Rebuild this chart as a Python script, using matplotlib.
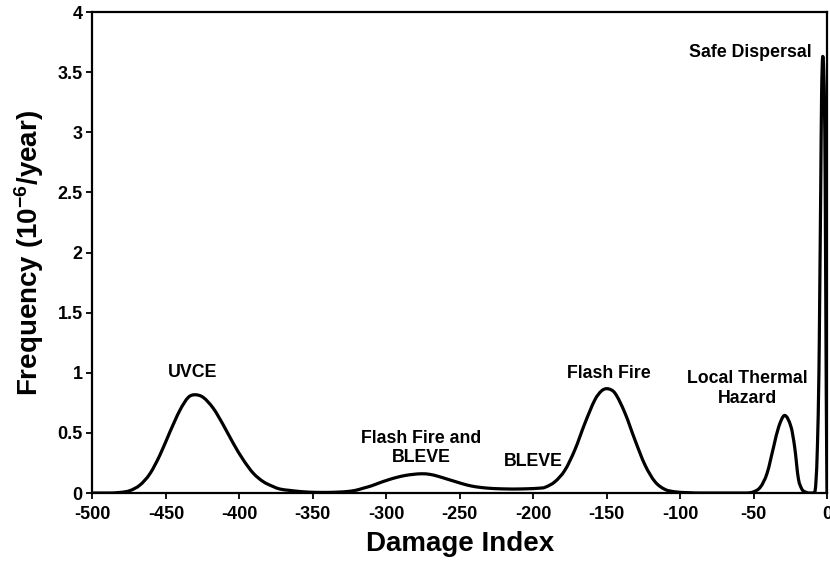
import matplotlib
matplotlib.use("Agg")
import numpy as np
import matplotlib.pyplot as plt
from matplotlib.path import Path
from matplotlib.patches import PathPatch
from matplotlib.ticker import FormatStrFormatter, MultipleLocator

plt.rcParams["font.family"] = ["Liberation Sans", "DejaVu Sans"]
plt.rcParams["font.weight"] = "bold"
plt.rcParams["axes.unicode_minus"] = False
plt.rcParams["mathtext.fontset"] = "custom"
plt.rcParams["mathtext.rm"] = "Liberation Sans:bold"
plt.rcParams["mathtext.bf"] = "Liberation Sans:bold"
plt.rcParams["mathtext.it"] = "Liberation Sans:bold"

# curve (damage index, frequency in 1e-6/year)
damage = [
    -500, -490, -481, -474.5, -467.7, -460.9, -454.1, -447.2, -440.4, -434.8,
    -430.2, -424.6, -417.8, -411, -404.2, -397.3, -390.5, -383.7, -376.9, -372.4,
    -366, -361, -355, -349.7, -340, -332, -327, -321, -315.7, -310,
    -304.3, -298.5, -292.9, -287, -281.6, -275.9, -270.3, -264.5, -258.9, -253,
    -247.6, -242, -236.2, -230.5, -224.8, -219, -213.5, -208, -202.2, -196,
    -192, -185.2, -178.4, -171.6, -164.8, -158, -153.4, -149.3, -144.3, -137.5,
    -130.7, -123.9, -117.1, -110.3, -103.5, -95, -85, -70, -55, -50,
    -45.3, -40.8, -36.3, -32.9, -28.8, -24.5, -22, -19.5, -17, -15,
    -12, -10, -8.5, -7.5, -6.5, -5.5, -5, -4.3, -3.7, -3.0,
    -2.2, -1.5, -1, -0.5, 0,
]
frequency = [
    0, 0, 0.005, 0.02, 0.066, 0.16, 0.315, 0.51, 0.69, 0.795,
    0.817, 0.795, 0.705, 0.567, 0.414, 0.275, 0.164, 0.094, 0.053, 0.033,
    0.022, 0.015, 0.009, 0.006, 0.005, 0.008, 0.012, 0.022, 0.04, 0.06,
    0.086, 0.11, 0.13, 0.146, 0.155, 0.16, 0.155, 0.138, 0.117, 0.095,
    0.075, 0.058, 0.047, 0.04, 0.036, 0.034, 0.033, 0.034, 0.036, 0.04,
    0.047, 0.094, 0.19, 0.36, 0.58, 0.775, 0.85, 0.867, 0.83, 0.664,
    0.44, 0.233, 0.094, 0.03, 0.01, 0.003, 0, 0, 0, 0.01,
    0.05, 0.164, 0.386, 0.55, 0.645, 0.55, 0.38, 0.12, 0.03, 0.01,
    0, 0, 0, 0.1, 0.4, 1.0, 1.6, 2.5, 3.3, 3.62,
    3.5, 3.0, 2.0, 0.8, 0,
]

labels = ["UVCE", "Flash Fire and\nBLEVE", "BLEVE", "Flash Fire",
          "Local Thermal\nHazard", "Safe Dispersal"]
label_x = [-432, -276, -200, -148.6, -54, -52]
label_y = [1.0, 0.375, 0.26, 0.99, 0.87, 3.66]


def smooth_path(x, y):
    # cubic hermite through the read points, drawn as bezier segments
    x = np.asarray(x, float)
    y = np.asarray(y, float)
    h = np.diff(x)
    d = np.diff(y) / h
    m = np.zeros_like(y)
    m[0], m[-1] = d[0], d[-1]
    for i in range(1, len(y) - 1):
        if d[i - 1] == 0 or d[i] == 0:
            continue
        c = (y[i + 1] - y[i - 1]) / (x[i + 1] - x[i - 1])
        if d[i - 1] * d[i] > 0:
            lim = 3 * min(abs(d[i - 1]), abs(d[i]))
            c = np.sign(c) * min(abs(c), lim)
        m[i] = c
    verts = [(x[0], y[0])]
    codes = [Path.MOVETO]
    for i in range(len(h)):
        verts += [(x[i] + h[i] / 3, y[i] + m[i] * h[i] / 3),
                  (x[i + 1] - h[i] / 3, y[i + 1] - m[i + 1] * h[i] / 3),
                  (x[i + 1], y[i + 1])]
        codes += [Path.CURVE4] * 3
    return Path(verts, codes)


fig = plt.figure(figsize=(8.3, 5.72), dpi=100)
ax = fig.add_axes([0.1114, 0.1381, 0.885, 0.8409])

ax.add_patch(PathPatch(smooth_path(damage, frequency), facecolor="none",
                       edgecolor="black", linewidth=2.3, joinstyle="round"))

for txt, lx, ly in zip(labels, label_x, label_y):
    ax.text(lx, ly, txt, ha="center", va="center", fontsize=12.8,
            fontweight="bold", linespacing=1.2)

ax.set_xlim(-500, 0)
ax.set_ylim(0, 4)
ax.xaxis.set_major_locator(MultipleLocator(50))
ax.yaxis.set_major_locator(MultipleLocator(0.5))
ax.xaxis.set_major_formatter(FormatStrFormatter("%g"))
ax.yaxis.set_major_formatter(FormatStrFormatter("%g"))

for s in ax.spines.values():
    s.set_linewidth(1.6)
ax.tick_params(direction="out", length=4, width=1.3, labelsize=13)
ax.tick_params(axis="x", pad=5)
ax.tick_params(axis="y", pad=3)

ax.set_xlabel("Damage Index", fontsize=20, fontweight="bold", labelpad=6)
ax.set_ylabel("Frequency (10$^{\\mathbf{-6}}$/year)", fontsize=20,
              fontweight="bold", labelpad=8)

fig.savefig("out.png", dpi=100)
